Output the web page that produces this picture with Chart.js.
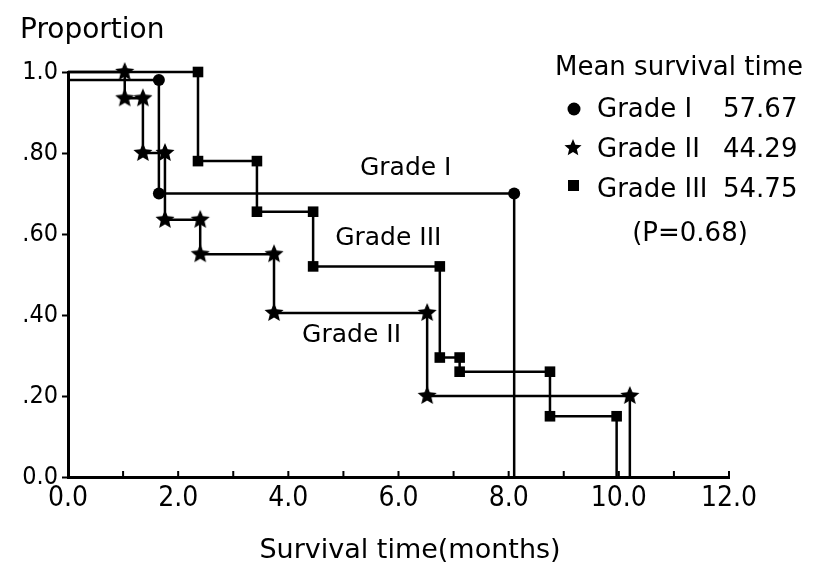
<!DOCTYPE html>
<html lang="en">
<head>
  <meta charset="UTF-8">
  <title>Survival by grade</title>
  <style>
    body { margin: 0; background: #fff; }
    canvas { display: block; }
  </style>
</head>
<body>
  <canvas id="kmChart" width="827" height="567"></canvas>

  <script src="https://cdn.jsdelivr.net/npm/chart.js"></script>
  <script>
    // Kaplan-Meier steps (time in months, proportion surviving)
    const grade1Times = [0, 1.65, 8.1];
    const grade1Surv = [0.98, 0.70, 0.0];
    const grade2Times = [0, 1.03, 1.36, 1.76, 2.40, 3.74, 6.52, 10.2];
    const grade2Surv = [1.0, 0.935, 0.80, 0.635, 0.55, 0.405, 0.20, 0.0];
    const grade3Times = [0, 2.36, 3.43, 4.45, 6.75, 7.11, 8.75, 9.96];
    const grade3Surv = [1.0, 0.78, 0.655, 0.52, 0.295, 0.26, 0.15, 0.0];

    const gradeNames = ["Grade I", "Grade II", "Grade III"];
    const meanSurvival = ["57.67", "44.29", "54.75"];
    const pValue = "0.68";

    const xTickLabels = ["0.0", "2.0", "4.0", "6.0", "8.0", "10.0", "12.0"];
    const yTickLabels = ["0.0", ".20", ".40", ".60", ".80", "1.0"];

    const FONT = '"DejaVu Sans", sans-serif';
    const NARROW = '"Liberation Sans Narrow", "DejaVu Sans Condensed", "DejaVu Sans", sans-serif';

    function makeStar(r) {
      const c = document.createElement("canvas");
      c.width = c.height = 2 * r + 2;
      const g = c.getContext("2d");
      g.translate(r + 1, r + 1);
      g.beginPath();
      for (let i = 0; i < 10; i++) {
        const rad = i % 2 ? r * 0.45 : r;
        const a = -Math.PI / 2 + i * Math.PI / 5;
        g.lineTo(rad * Math.cos(a), rad * Math.sin(a));
      }
      g.closePath();
      g.fillStyle = "#000";
      g.fill();
      return c;
    }
    const starBig = makeStar(10);
    const starSmall = makeStar(9);

    // turn step times/values into the corner points of the curve
    function steps(times, surv) {
      const pts = [{ x: times[0], y: surv[0] }];
      for (let i = 1; i < times.length; i++) {
        pts.push({ x: times[i], y: surv[i - 1] });
        pts.push({ x: times[i], y: surv[i] });
      }
      return pts;
    }

    function dataset(label, times, surv, style, radius) {
      const pts = steps(times, surv);
      return {
        label: label,
        data: pts,
        showLine: true,
        borderColor: "#000",
        borderWidth: 2.5,
        backgroundColor: "#000",
        pointBackgroundColor: "#000",
        pointBorderWidth: 0,
        pointStyle: style,
        pointRadius: pts.map((p, i) => (i === 0 || i === pts.length - 1) ? 0 : radius),
        clip: false
      };
    }

    const annotations = [
      { text: "Grade I", x: 5.3, y: 0.746 },
      { text: "Grade III", x: 4.85, y: 0.573 },
      { text: "Grade II", x: 4.25, y: 0.333 }
    ];

    const extras = {
      id: "extras",
      afterDraw(chart) {
        const ctx = chart.ctx;
        const xs = chart.scales.x, ys = chart.scales.y;
        const area = chart.chartArea;
        ctx.save();

        // inward x ticks
        ctx.strokeStyle = "#000";
        ctx.lineWidth = 2;
        ctx.beginPath();
        xs.ticks.forEach(t => {
          if (t.value === 0) return;
          const px = xs.getPixelForValue(t.value);
          ctx.moveTo(px, area.bottom);
          ctx.lineTo(px, area.bottom - 6);
        });
        ctx.stroke();

        ctx.fillStyle = "#000";
        ctx.textBaseline = "alphabetic";

        ctx.font = "28px " + FONT;
        ctx.textAlign = "left";
        ctx.fillText("Proportion", 20, 38);

        ctx.font = "27px " + FONT;
        ctx.textAlign = "center";
        ctx.fillText("Survival time(months)", 410, 558);

        ctx.font = "25px " + FONT;
        ctx.textAlign = "left";
        annotations.forEach(a => {
          ctx.fillText(a.text, xs.getPixelForValue(a.x), ys.getPixelForValue(a.y));
        });

        // legend block
        ctx.font = "26px " + FONT;
        ctx.textAlign = "center";
        ctx.fillText("Mean survival time", 679, 75);
        const rowY = [117, 157, 197];
        ctx.textAlign = "left";
        for (let i = 0; i < 3; i++) {
          ctx.fillText(gradeNames[i], 597, rowY[i]);
          ctx.fillText(meanSurvival[i], 723, rowY[i]);
        }
        ctx.beginPath();
        ctx.arc(574, 109, 6.5, 0, Math.PI * 2);
        ctx.fill();
        ctx.drawImage(starSmall, 573 - starSmall.width / 2, 148 - starSmall.height / 2);
        ctx.fillRect(568, 180, 11, 11);

        ctx.textAlign = "center";
        ctx.fillText("(P=" + pValue + ")", 690, 241);
        ctx.restore();
      }
    };

    new Chart(document.getElementById("kmChart"), {
      type: "scatter",
      data: {
        datasets: [
          dataset("Grade I", grade1Times, grade1Surv, "circle", 6),
          dataset("Grade II", grade2Times, grade2Surv, starBig, 10),
          dataset("Grade III", grade3Times, grade3Surv, "rect", 7.5)
        ]
      },
      options: {
        responsive: false,
        animation: false,
        layout: { padding: { top: 72, right: 98, left: 0, bottom: 0 } },
        plugins: { legend: { display: false }, tooltip: { enabled: false } },
        scales: {
          x: {
            type: "linear",
            min: 0,
            max: 12,
            afterFit: s => { s.height = 90; },
            border: { display: true, color: "#000", width: 3 },
            grid: { drawOnChartArea: false, drawTicks: false },
            ticks: {
              stepSize: 1,
              autoSkip: false,
              maxRotation: 0,
              padding: 5,
              color: "#000",
              font: { family: NARROW, size: 28 },
              callback: (v, i) => i % 2 === 0 ? xTickLabels[i / 2] : ""
            }
          },
          y: {
            min: 0,
            max: 1,
            afterFit: s => { s.width = 68; },
            border: { display: true, color: "#000", width: 3 },
            grid: { drawOnChartArea: false, drawTicks: true, tickLength: 6, tickWidth: 2, tickColor: "#000" },
            ticks: {
              stepSize: 0.2,
              padding: 4,
              color: "#000",
              font: { family: NARROW, size: 25 },
              callback: (v, i) => yTickLabels[i]
            }
          }
        }
      },
      plugins: [extras]
    });
  </script>
</body>
</html>
